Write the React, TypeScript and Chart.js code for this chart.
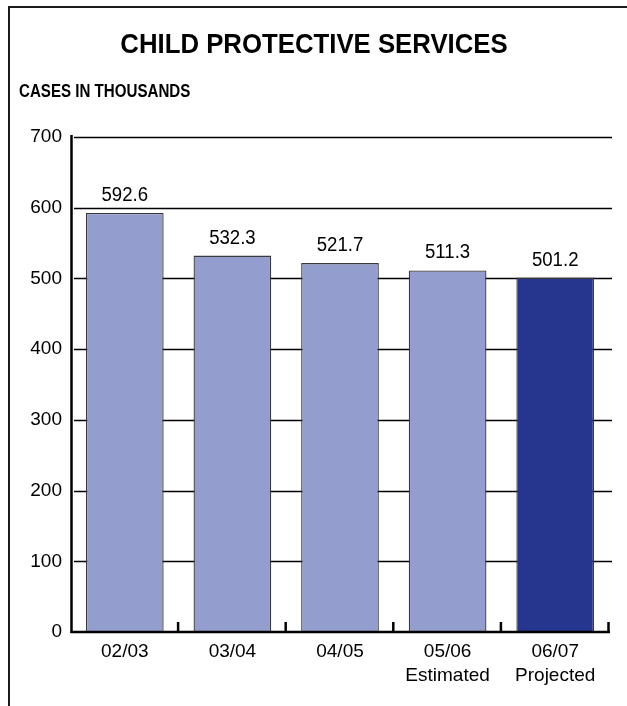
import React, { useEffect, useRef } from "react";
import { Chart, registerables } from "chart.js";

Chart.register(...registerables);

const categories = ["02/03", "03/04", "04/05", "05/06", "06/07"];
const subLabels = ["", "", "", "Estimated", "Projected"];
const values = [592.6, 532.3, 521.7, 511.3, 501.2];
const barColors = ["#939ECF", "#939ECF", "#939ECF", "#939ECF", "#26358D"];
const yTicks = [0, 100, 200, 300, 400, 500, 600, 700];
const titleText = "CHILD PROTECTIVE SERVICES";
const subtitleText = "CASES IN THOUSANDS";

const FONT = "'Liberation Sans', Arial, sans-serif";

const decorPlugin = {
  id: "decor",
  beforeDraw(chart: any) {
    const ctx = chart.ctx;
    ctx.save();
    ctx.fillStyle = "#ffffff";
    ctx.fillRect(0, 0, chart.width, chart.height);
    ctx.strokeStyle = "#1a1a1a";
    ctx.lineWidth = 2;
    ctx.beginPath();
    ctx.moveTo(9, chart.height);
    ctx.lineTo(9, 7);
    ctx.lineTo(chart.width, 7);
    ctx.stroke();
    ctx.fillStyle = "#000";
    // title (slightly condensed)
    ctx.save();
    ctx.translate(314, 45);
    ctx.scale(0.92, 1);
    ctx.font = "bold 28px " + FONT;
    ctx.textAlign = "center";
    ctx.textBaseline = "middle";
    ctx.fillText(titleText, 0, 0);
    ctx.restore();
    // subtitle (condensed)
    ctx.save();
    ctx.translate(19, 92);
    ctx.scale(0.84, 1);
    ctx.font = "bold 18px " + FONT;
    ctx.textAlign = "left";
    ctx.textBaseline = "middle";
    ctx.fillText(subtitleText, 0, 0);
    ctx.restore();
    ctx.restore();
  },
  beforeDatasetsDraw(chart: any) {
    const ctx = chart.ctx;
    const y = chart.scales.y;
    const area = chart.chartArea;
    ctx.save();
    ctx.strokeStyle = "#000";
    ctx.lineWidth = 1.4;
    yTicks.forEach((v) => {
      if (v === 0) return;
      const py = Math.round(y.getPixelForValue(v)) + 0.5;
      ctx.beginPath();
      ctx.moveTo(area.left + 3, py);
      ctx.lineTo(area.right + 3, py);
      ctx.stroke();
    });
    ctx.restore();
  },
  afterDatasetsDraw(chart: any) {
    const ctx = chart.ctx;
    const area = chart.chartArea;
    const meta = chart.getDatasetMeta(0);
    ctx.save();
    ctx.fillStyle = "#000";
    ctx.textAlign = "center";
    ctx.textBaseline = "alphabetic";
    meta.data.forEach((bar: any, i: number) => {
      ctx.save();
      ctx.translate(bar.x, bar.y - 12);
      ctx.scale(0.93, 1);
      ctx.font = "20px " + FONT;
      ctx.fillText(values[i].toFixed(1), 0, 0);
      ctx.restore();
    });
    ctx.strokeStyle = "#000";
    ctx.lineWidth = 2.5;
    ctx.beginPath();
    ctx.moveTo(area.left + 0.5, area.top - 2);
    ctx.lineTo(area.left + 0.5, area.bottom + 1);
    ctx.stroke();
    ctx.beginPath();
    ctx.moveTo(area.left - 0.5, area.bottom);
    ctx.lineTo(area.right + 1, area.bottom);
    ctx.stroke();
    const n = categories.length;
    const w = (area.right - area.left) / n;
    for (let i = 1; i <= n; i++) {
      const x = area.left + i * w - 0.5;
      ctx.beginPath();
      ctx.moveTo(x, area.bottom - 10);
      ctx.lineTo(x, area.bottom);
      ctx.stroke();
    }
    ctx.restore();
  },
};

export default function App() {
  const ref = useRef<HTMLCanvasElement | null>(null);
  useEffect(() => {
    if (!ref.current) return;
    const labels = categories.map((c, i) => (subLabels[i] ? [c, subLabels[i]] : c));
    const chart = new Chart(ref.current, {
      type: "bar",
      data: {
        labels,
        datasets: [
          {
            data: values,
            backgroundColor: barColors,
            borderColor: "#3a3a3a",
            borderWidth: 1.3,
            barPercentage: 0.722,
            categoryPercentage: 1,
          },
        ],
      },
      options: {
        responsive: false,
        animation: false,
        layout: { padding: { top: 137, right: 18, left: 0, bottom: 0 } },
        plugins: { legend: { display: false }, tooltip: { enabled: false }, title: { display: false } },
        scales: {
          x: {
            grid: { display: false, drawTicks: false },
            border: { display: false },
            ticks: {
              color: "#000",
              padding: 8,
              font: { family: FONT, size: 19, lineHeight: 1.25 },
              maxRotation: 0,
              autoSkip: false,
            },
            afterFit: (s: any) => {
              s.height = 74;
            },
          },
          y: {
            min: 0,
            max: 700,
            grid: { display: false, drawTicks: false },
            border: { display: false },
            ticks: {
              stepSize: 100,
              color: "#000",
              padding: 9,
              font: { family: FONT, size: 19 },
            },
            afterFit: (s: any) => {
              s.width = 71;
            },
          },
        },
      },
      plugins: [decorPlugin],
    });
    return () => chart.destroy();
  }, []);
  return (
    <div style={{ position: "absolute", left: 0, top: 0, width: 627, height: 706 }}>
      <canvas ref={ref} width={627} height={706} style={{ display: "block" }} />
    </div>
  );
}
